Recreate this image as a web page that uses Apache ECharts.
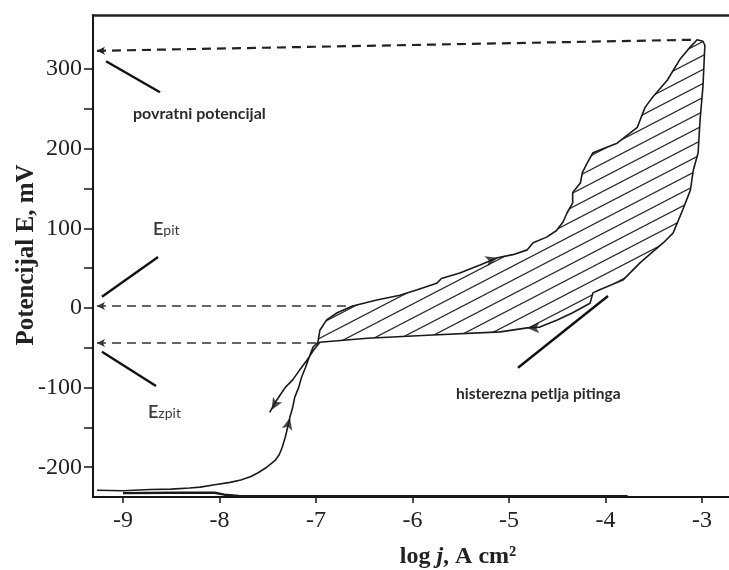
<!DOCTYPE html>
<html><head><meta charset="utf-8">
<script src="https://cdn.jsdelivr.net/npm/echarts@6/dist/echarts.min.js"></script>
<style>html,body{margin:0;padding:0;background:#fff}#c{width:729px;height:570px}</style>
</head><body><div id="c"></div>
<script>
// ---- data (log j, E mV) ----
const xTicks = [-9, -8, -7, -6, -5, -4, -3];
const yLabels = [-200, -100, 0, 100, 200, 300];
const yTicks = [-200, -150, -100, -50, 0, 50, 100, 150, 200, 250, 300];

const lowerForward = [[-9.27,-229],[-9.0,-229.5],[-8.72,-228],[-8.5,-227.5],[-8.31,-226],[-8.2,-225],[-8.05,-222],[-7.89,-219],[-7.78,-216],[-7.68,-212],[-7.6,-207],[-7.51,-200],[-7.42,-191],[-7.38,-184],[-7.35,-175],[-7.32,-163],[-7.30,-153],[-7.27,-137],[-7.24,-124],[-7.22,-112],[-7.18,-100],[-7.15,-87],[-7.11,-75],[-7.08,-65],[-7.05,-55],[-7.03,-49],[-6.98,-43]];
const loopUpper = [[-6.98,-43],[-6.96,-28],[-6.89,-15],[-6.78,-6],[-6.62,2.5],[-6.37,10],[-6.13,16],[-5.95,23],[-5.75,31],[-5.70,37],[-5.51,44],[-5.30,54],[-5.12,63],[-4.96,67],[-4.81,73],[-4.75,82],[-4.61,89],[-4.51,97],[-4.44,108],[-4.40,119],[-4.34,132],[-4.34,145],[-4.26,157],[-4.24,170],[-4.19,182],[-4.13,195],[-3.88,207],[-3.67,227],[-3.59,252],[-3.51,265],[-3.36,286],[-3.23,312],[-3.12,328],[-3.05,337],[-2.99,335]];
const loopLower = [[-2.97,330],[-2.99,278],[-3.02,236],[-3.04,195],[-3.09,173],[-3.12,148],[-3.20,123],[-3.30,94],[-3.40,82],[-3.64,57],[-3.82,35],[-4.06,23],[-4.13,19],[-4.16,6],[-4.34,-6],[-4.50,-15],[-4.68,-24],[-4.81,-25],[-5.09,-30],[-5.79,-34],[-6.47,-38],[-6.96,-43]];
const downBranch = [[-6.96,-43],[-7.02,-52],[-7.09,-65],[-7.17,-78],[-7.24,-90],[-7.32,-100],[-7.37,-109],[-7.42,-118],[-7.48,-131]];
const cathodic = [[-9.0,-232.5],[-8.5,-232],[-8.05,-232],[-7.95,-234.5],[-7.8,-236],[-7.5,-236.5],[-3.77,-236.5]];

const dashTop = [[-9.27,323],[-3.05,337]];
const dashPit = [[-9.27,2.5],[-6.60,2.5]];
const dashZpit = [[-9.27,-44],[-6.98,-44]];

const ptrPovratni = [[-9.176,310],[-8.617,271]];
const ptrEpit = [[-9.218,14],[-8.637,64]];
const ptrEzpit = [[-9.218,-55],[-8.658,-98]];
const ptrHist = [[-4.907,-75],[-3.974,15]];

const arrowPts = [[-5.12,63],[-4.81,-25],[-7.46,-128],[-7.27,-138]];
const arrowRot = [-73, 90, 150, -14];

const texts = {
  povratni: 'povratni potencijal',
  hist: 'histerezna petlja pitinga',
  yName: 'Potencijal E, mV'
};

// ---- build ----
const mainCurve = lowerForward.concat(loopUpper.slice(1), loopLower, downBranch.slice(1));
const loopPoly = loopUpper.concat(loopLower);

function makeHatch(){
  const w = 27, h = 14;
  const c = document.createElement('canvas');
  c.width = w; c.height = h;
  const g = c.getContext('2d');
  g.fillStyle = '#fff'; g.fillRect(0,0,w,h);
  g.strokeStyle = '#2a2a2a'; g.lineWidth = 1.2;
  for (let k = -2; k <= 2; k++) {
    g.beginPath();
    g.moveTo(-w, 2*h + k*h);
    g.lineTo(2*w, -h + k*h);
    g.stroke();
  }
  return c;
}
const hatch = makeHatch();

const chart = echarts.init(document.getElementById('c'), null, {renderer:'canvas'});
const axisCol = '#151515';
const tickFont = {fontFamily:'Liberation Serif', fontSize:24, color:'#222'};

function seg(p){ return [{coord:p[0]}, {coord:p[1]}]; }

chart.setOption({
  backgroundColor:'#fff',
  animation:false,
  grid:{left:93, right:0, top:15, bottom:73, outerBoundsMode:'none'},
  xAxis:[{
    type:'value', min:-9.311, max:-2.72, position:'bottom',
    axisLine:{show:true, onZero:false, lineStyle:{color:axisCol, width:2}},
    axisTick:{show:true, customValues:xTicks, length:6, lineStyle:{color:axisCol, width:1.5}},
    axisLabel:Object.assign({customValues:xTicks, margin:12}, tickFont),
    splitLine:{show:false}
  },{
    type:'value', min:-9.311, max:-2.72, position:'top',
    axisLine:{show:true, onZero:false, lineStyle:{color:'#222', width:2.5}},
    axisTick:{show:false}, axisLabel:{show:false}, splitLine:{show:false}
  }],
  yAxis:{
    type:'value', min:-237.4, max:368,
    axisLine:{show:true, onZero:false, lineStyle:{color:axisCol, width:2}},
    axisTick:{show:true, customValues:yTicks, length:9, lineStyle:{color:axisCol, width:1.5}},
    axisLabel:Object.assign({customValues:yLabels, margin:11}, tickFont),
    splitLine:{show:false}
  },
  series:[
    {
      type:'custom', coordinateSystem:'cartesian2d', silent:true, z:1,
      data:[loopPoly[0]],
      renderItem:function(params, api){
        const pts = loopPoly.map(p => api.coord(p));
        return {type:'polygon', shape:{points:pts}, style:{fill:{image:hatch, repeat:'repeat'}, stroke:null}};
      }
    },
    {
      type:'line', data:mainCurve, showSymbol:false, symbol:'none', z:3,
      lineStyle:{color:'#1a1a1a', width:1.6}
    },
    {
      type:'line', data:cathodic, showSymbol:false, symbol:'none', z:3,
      lineStyle:{color:'#1a1a1a', width:2.4},
      markLine:{
        silent:true, animation:false, symbol:['none','none'], label:{show:false},
        lineStyle:{type:[9,6], color:'#333', width:1.6},
        emphasis:{disabled:true},
        data:[
          [{coord:dashTop[0], symbol:'arrow', symbolSize:[6,8], lineStyle:{type:[9,6], color:'#222', width:2.2}}, {coord:dashTop[1], symbol:'none'}],
          [{coord:dashPit[0], symbol:'arrow', symbolSize:[6,8]}, {coord:dashPit[1], symbol:'none'}],
          [{coord:dashZpit[0], symbol:'arrow', symbolSize:[6,8]}, {coord:dashZpit[1], symbol:'none'}]
        ]
      }
    },
    {
      type:'line', data:[], z:4,
      markLine:{
        silent:true, animation:false, symbol:['none','none'], label:{show:false},
        lineStyle:{type:'solid', color:'#111', width:2.4},
        emphasis:{disabled:true},
        data:[seg(ptrPovratni), seg(ptrEpit), seg(ptrEzpit), seg(ptrHist)]
      }
    },
    {
      type:'scatter', z:5, silent:true, symbol:'arrow', symbolSize:[8,12],
      itemStyle:{color:'#1a1a1a'},
      data:arrowPts.map((p,i) => ({value:p, symbolRotate:arrowRot[i]}))
    }
  ],
  graphic:[
    {type:'text', x:27, y:255, rotation:Math.PI/2, style:{text:texts.yName, font:'bold 25px "Liberation Serif"', fill:'#222', align:'center', verticalAlign:'middle'}},
    {type:'text', x:458, y:557, style:{
      text:'{a|log }{b|j}{a|, A cm²}', align:'center', verticalAlign:'middle',
      rich:{a:{font:'bold 24px "Liberation Serif"', fill:'#222'}, b:{font:'italic bold 24px "Liberation Serif"', fill:'#222'}}
    }},
    {type:'text', x:133, y:114, style:{text:texts.povratni, font:'bold 16px Lato', fill:'#2a2a2a', verticalAlign:'middle'}},
    {type:'text', x:456, y:394, style:{text:texts.hist, font:'bold 15.5px Lato', fill:'#2a2a2a', verticalAlign:'middle'}},
    {type:'text', x:153, y:229, style:{text:'{e|E}{s|pit}', verticalAlign:'middle',
      rich:{e:{font:'600 18px Lato', fill:'#3a3a3a'}, s:{font:'14px Lato', fill:'#3a3a3a', padding:[3,0,0,0]}}}},
    {type:'text', x:148, y:412, style:{text:'{e|E}{s|zpit}', verticalAlign:'middle',
      rich:{e:{font:'600 18px Lato', fill:'#3a3a3a'}, s:{font:'14px Lato', fill:'#3a3a3a', padding:[3,0,0,0]}}}}
  ]
});
</script></body></html>
